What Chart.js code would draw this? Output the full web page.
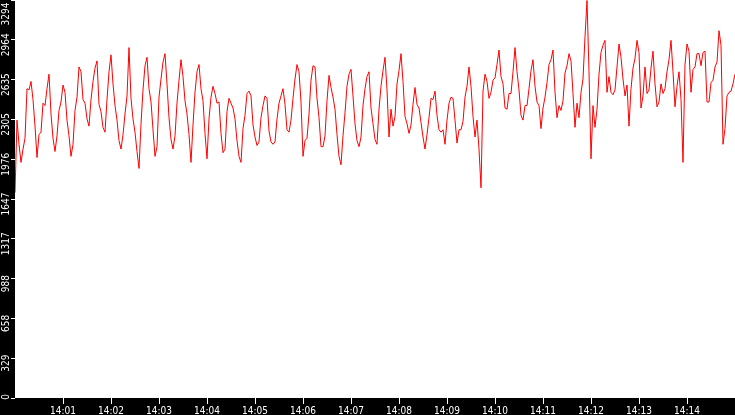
<!DOCTYPE html>
<html>
<head>
<meta charset="utf-8">
<script src="https://cdn.jsdelivr.net/npm/chart.js@4.4.1/dist/chart.umd.min.js"></script>
<style>
  html, body { margin: 0; padding: 0; background: #000; }
  #chart { display: block; background: #000; }
</style>
</head>
<body>
<canvas id="chart" width="735" height="415"></canvas>
<script>
// sampling: one reading every 2.5 s from 14:00:00 to 14:15:00
const startSec = 0;
const stepSec = 2.5;
const endSec = 900;

const values = [
  // 14:00:00 - 14:01:50
  1700, 2300, 2100, 1950, 2060, 2150, 2560, 2550, 2620, 2470, 2250, 1990, 2180, 2200, 2440,
  2420, 2560, 2680, 2350, 2150, 2040, 2170, 2380, 2450, 2590, 2530, 2300, 2170, 2000, 2100,
  2380, 2490, 2740, 2700, 2470, 2440, 2310, 2250, 2470, 2620, 2730, 2790, 2430, 2370, 2240,
  // 14:01:52 - 14:03:42
  2200, 2470, 2700, 2840, 2600, 2420, 2300, 2130, 2060, 2180, 2350, 2500, 2900, 2480, 2310,
  2200, 2040, 1900, 2270, 2550, 2750, 2820, 2560, 2450, 2220, 2000, 2080, 2490, 2640, 2780,
  2850, 2600, 2320, 2140, 2060, 2170, 2440, 2630, 2800, 2660, 2460, 2350, 2180, 1950, 2260,
  // 14:03:45 - 14:05:35
  2530, 2700, 2760, 2560, 2460, 2190, 1980, 2310, 2490, 2580, 2520, 2440, 2450, 2190, 2030,
  2060, 2370, 2480, 2440, 2400, 2310, 2130, 2000, 1950, 2230, 2340, 2520, 2540, 2500, 2260,
  2160, 2090, 2120, 2320, 2420, 2500, 2480, 2210, 2120, 2100, 2120, 2310, 2440, 2500, 2560,
  // 14:05:37 - 14:07:27
  2430, 2220, 2200, 2300, 2480, 2640, 2760, 2700, 2450, 2000, 2130, 2150, 2350, 2630, 2750,
  2740, 2480, 2320, 2080, 2080, 2170, 2460, 2670, 2570, 2490, 2390, 2180, 2000, 1930, 2170,
  2360, 2580, 2680, 2720, 2500, 2270, 2130, 2080, 2160, 2420, 2560, 2660, 2700, 2400, 2270,
  // 14:07:30 - 14:09:20
  2140, 2100, 2390, 2580, 2710, 2820, 2550, 2160, 2390, 2250, 2330, 2600, 2710, 2850, 2620,
  2330, 2270, 2190, 2260, 2430, 2570, 2430, 2400, 2280, 2160, 2060, 2180, 2320, 2480, 2470,
  2540, 2340, 2220, 2200, 2220, 2100, 2300, 2440, 2490, 2480, 2300, 2110, 2220, 2220, 2290,
  // 14:09:22 - 14:11:12
  2490, 2580, 2740, 2580, 2330, 2160, 2300, 2060, 1740, 2540, 2680, 2620, 2480, 2530, 2630,
  2650, 2760, 2880, 2660, 2600, 2400, 2390, 2520, 2520, 2700, 2900, 2700, 2550, 2340, 2300,
  2420, 2420, 2560, 2710, 2800, 2580, 2450, 2420, 2230, 2400, 2490, 2610, 2760, 2800, 2880,
  // 14:11:15 - 14:13:05
  2530, 2320, 2420, 2380, 2460, 2690, 2750, 2850, 2790, 2520, 2240, 2440, 2320, 2530, 2640,
  2990, 3290, 2700, 1980, 2420, 2240, 2390, 2680, 2860, 2920, 2960, 2530, 2660, 2530, 2510,
  2550, 2740, 2930, 2820, 2640, 2500, 2590, 2250, 2560, 2730, 2810, 2960, 2860, 2400, 2500,
  // 14:13:07 - 14:15:00
  2740, 2520, 2550, 2730, 2870, 2600, 2410, 2450, 2600, 2520, 2560, 2700, 2800, 2960, 2700,
  2410, 2580, 2700, 2470, 1950, 2760, 2930, 2870, 2530, 2720, 2740, 2850, 2850, 2750, 2860,
  2870, 2450, 2450, 2610, 2630, 2740, 2780, 3040, 2920, 2100, 2230, 2500, 2530, 2540, 2600,
  2680
];

const tickSecondsX = [60, 120, 180, 240, 300, 360, 420, 480, 540, 600, 660, 720, 780, 840];
const tickLabelsX = ['14:01', '14:02', '14:03', '14:04', '14:05', '14:06', '14:07',
                     '14:08', '14:09', '14:10', '14:11', '14:12', '14:13', '14:14'];

const yMax = 3294;
const tickLabelsY = ['0', '329', '658', '988', '1317', '1647', '1976', '2305', '2635', '2964', '3294'];

// ================================================================== plugins
const plotBackground = {
    id: 'plotBackground',
    beforeDraw(chart) {
        let ctx = chart.ctx;
        let a = chart.chartArea;
        ctx.save();
        ctx.fillStyle = '#000';
        ctx.fillRect(0, 0, chart.width, chart.height);
        ctx.fillStyle = '#fff';
        ctx.fillRect(a.left, a.top, a.right - a.left, a.bottom - a.top);
        ctx.restore();
    }
};

// keep first / last y label inside the strip
const clampYLabels = {
    id: 'clampYLabels',
    beforeDraw(chart) {
        let scale = chart.scales.y;
        let a = chart.chartArea;
        let items = scale.getLabelItems();
        items.forEach(item => {
            let t = item.options.translation;
            t[1] = Math.max(a.top + 14, Math.min(a.bottom - 1, t[1]));
        });
    }
};

// ================================================================== chart
let points = values.map((v, i) => ({ x: startSec + i * stepSec, y: v }));
let tickFont = { family: "'DejaVu Sans Condensed', 'DejaVu Sans'", size: 10 };

new Chart(document.getElementById('chart'), {
    type: 'line',
    data: {
        datasets: [{
            data: points,
            borderColor: '#ff0000',
            borderWidth: 1,
            pointRadius: 0,
            tension: 0,
            fill: false
        }]
    },
    options: {
        responsive: false,
        animation: false,
        devicePixelRatio: 1,
        events: [],
        layout: { padding: 0 },
        plugins: {
            legend: { display: false },
            tooltip: { enabled: false }
        },
        scales: {
            x: {
                type: 'linear',
                position: 'bottom',
                min: startSec,
                max: endSec,
                border: { display: false },
                grid: { drawOnChartArea: false, tickLength: 6, tickColor: '#fff' },
                ticks: {
                    color: '#fff',
                    font: tickFont,
                    padding: 1,
                    minRotation: 0,
                    maxRotation: 0,
                    autoSkip: false,
                    callback: (v, i) => tickLabelsX[i]
                },
                afterBuildTicks: s => { s.ticks = tickSecondsX.map(v => ({ value: v })); },
                afterFit: s => { s.height = 17; s.paddingLeft = 0; s.paddingRight = 0; }
            },
            y: {
                type: 'linear',
                position: 'left',
                min: 0,
                max: yMax,
                border: { display: false },
                grid: { drawOnChartArea: false, tickLength: 4, tickColor: '#fff' },
                ticks: {
                    color: '#fff',
                    font: tickFont,
                    minRotation: 90,
                    maxRotation: 90,
                    crossAlign: 'center',
                    padding: -7,
                    labelOffset: 5,
                    autoSkip: false,
                    callback: (v, i) => tickLabelsY[i]
                },
                afterBuildTicks: s => { s.ticks = tickLabelsY.map((t, i) => ({ value: yMax * i / 10 })); },
                afterFit: s => { s.width = 15; s.paddingTop = 0; s.paddingBottom = 0; }
            }
        }
    },
    plugins: [plotBackground, clampYLabels]
});
</script>
</body>
</html>
